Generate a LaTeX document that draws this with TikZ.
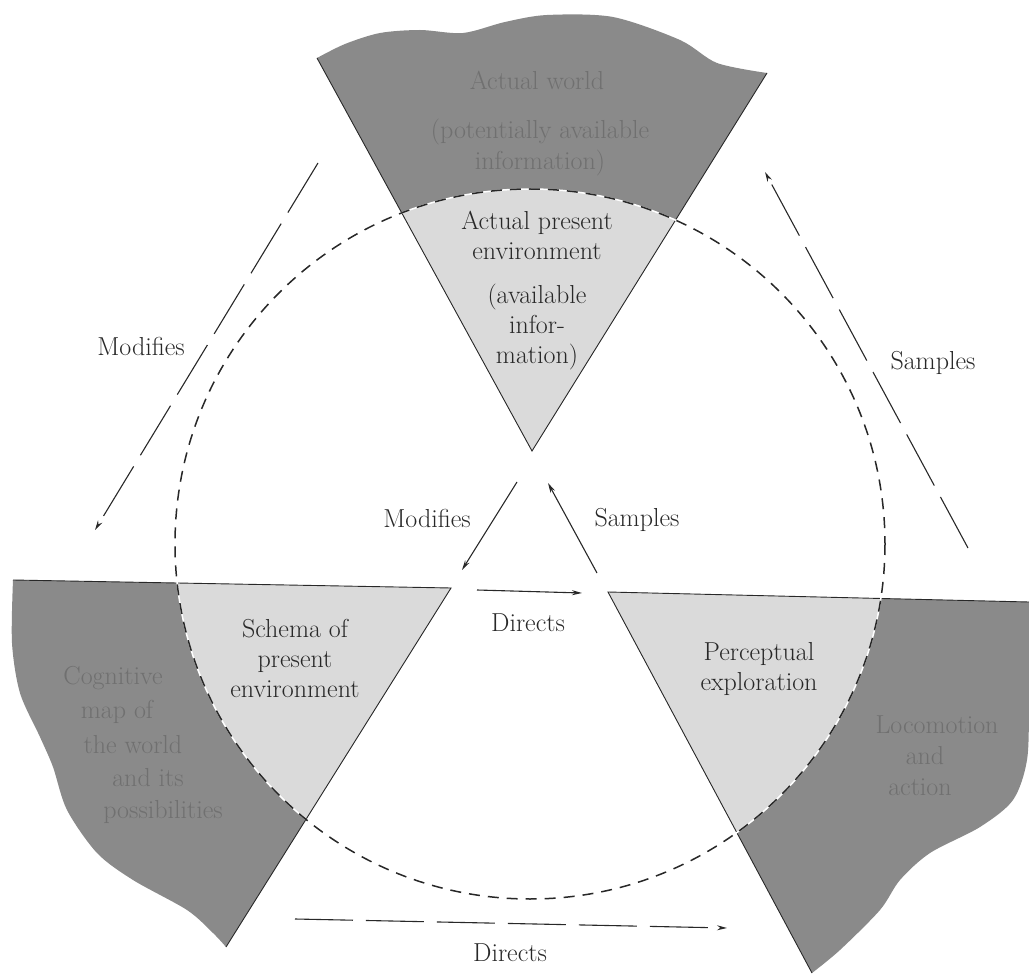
\documentclass[tikz,border=0pt]{standalone}
\usetikzlibrary{arrows.meta}
\definecolor{wdark}{RGB}{138,138,138}
\definecolor{wlight}{RGB}{218,218,218}
\definecolor{wtext}{RGB}{112,112,112}
\definecolor{ink}{RGB}{40,40,40}
\begin{document}
\begin{tikzpicture}[x=1pt,y=-1pt,
  lbl/.style={text=ink,font=\fontsize{26}{30}\selectfont,inner sep=0pt,align=center},
  dlbl/.style={text=wtext,font=\fontsize{26}{34}\selectfont,inner sep=0pt,align=center},
  edge/.style={draw=ink,line width=0.9pt},
  solidarrow/.style={draw=ink,line width=1.1pt,-{Stealth[length=10pt,width=5pt]}},
  longdash/.style={draw=ink,line width=1.1pt,dash pattern=on 58pt off 13pt,-{Stealth[length=10pt,width=5pt]}},
  circdash/.style={draw=ink,line width=1.5pt,dash pattern=on 11pt off 8pt}]
\useasboundingbox (0,0) rectangle (1029,976);

\def\TW{(532,451) -- plot[smooth] coordinates {(317,58) (345,44) (380,33) (420,30) (463,33) (505,22) (547,15) (613,17) (680,40) (717,63) (767,73)} -- cycle}
\def\LW{(451,588) -- plot[smooth] coordinates {(13,580) (12,643) (20,693) (40,737) (53,767) (67,810) (97,853) (133,880) (187,910) (213,933) (226,947)} -- cycle}
\def\RW{(608,592) -- plot[smooth] coordinates {(1029,602) (1029,700) (1027,760) (1013,800) (980,827) (930,853) (900,880) (880,910) (840,950) (812,973)} -- cycle}

% dark outer parts
\fill[wdark] \TW;
\fill[wdark] \LW;
\fill[wdark] \RW;
% light inner parts
\begin{scope}
  \clip (530,544) circle[radius=355];
  \fill[wlight] \TW;
  \fill[wlight] \LW;
  \fill[wlight] \RW;
\end{scope}

% straight edges
\draw[edge] (317,58) -- (532,451) -- (767,73);
\draw[edge] (13,580) -- (451,588) -- (226,947);
\draw[edge] (1029,602) -- (608,592) -- (812,973);

% dashed circle
\draw[white,line width=1.5pt] (530,544) circle[radius=355];
\draw[circdash] (530,544) circle[radius=355];

% texts in wedges
\node[dlbl] (aw) at (537,80) {Actual world};
\node[dlbl,font=\fontsize{26}{31}\selectfont] (pai) at (540,148) {(potentially available\\information)};
\node[lbl] (ape) at (537,235) {Actual present\\environment};
\node[lbl] (ai) at (537,327) {(available\\infor-\\mation)};

\node[lbl] (spe) at (295,658) {Schema of\\present\\environment};
\node[dlbl] (cg1) at (113,678) {Cognitive};
\node[dlbl] (cg2) at (117,712) {map of};
\node[dlbl] (cg3) at (133,745) {the world};
\node[dlbl] (cg4) at (148,778) {and its};
\node[dlbl] (cg5) at (163,812) {possibilities};

\node[lbl] (pe) at (759,669) {Perceptual\\exploration};
\node[dlbl] (la1) at (937,725) {Locomotion};
\node[dlbl] (la2) at (925,756) {and};
\node[dlbl] (la3) at (920,787) {action};

% arrow end points
\coordinate (imA) at (517,482);
\coordinate (imB) at (462,570);
\coordinate (isA) at (597,573);
\coordinate (isB) at (548,483);
\coordinate (idA) at (477,590);
\coordinate (idB) at (582,593);
\coordinate (omA) at (318,163);
\coordinate (omB) at (95,530);
\coordinate (osA) at (968,548);
\coordinate (osB) at (765,172);
\coordinate (odA) at (295,919);
\coordinate (odB) at (727,928);

% inner arrows
\draw[solidarrow] (imA) -- (imB);
\draw[solidarrow] (isA) -- (isB);
\draw[solidarrow] (idA) -- (idB);
\node[lbl] (lim) at (427,518) {Modifies};
\node[lbl] (lis) at (637,520) {Samples};
\node[lbl] (lid) at (528,623) {Directs};

% outer arrows
\draw[longdash] (omA) -- (omB);
\draw[longdash] (osA) -- (osB);
\draw[longdash] (odA) -- (odB);
\node[lbl] (lom) at (141,346) {Modifies};
\node[lbl] (los) at (933,363) {Samples};
\node[lbl] (lod) at (510,953) {Directs};
\end{tikzpicture}
\end{document}
